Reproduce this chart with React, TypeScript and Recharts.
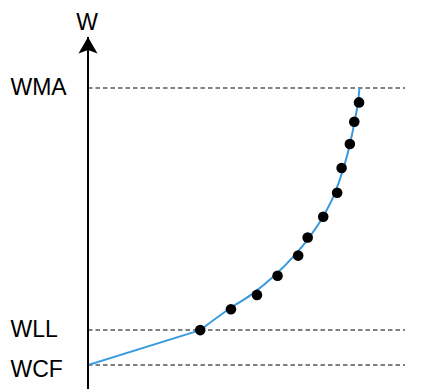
import React from "react";
import {
  ComposedChart,
  Line,
  Scatter,
  XAxis,
  YAxis,
  ReferenceLine,
  ReferenceDot,
} from "recharts";

// Level tick labels and their values (WCF = 0, WMA = 100)
const levelLabels = ["WCF", "WLL", "WMA"];
const levelValues = [0, 12.6, 100];

// Measured points (black dots)
const dotX = [35.4, 45.1, 53.3, 59.8, 66.3, 69.3, 74.2, 78.6, 80.0, 82.6, 84.0, 85.5];
const dotY = [12.6, 20.1, 25.3, 32.2, 39.5, 46.0, 53.5, 62.2, 71.1, 79.8, 87.8, 94.8];

// Straight start segment (WCF to WLL)
const startX = [0, 35.4];
const startY = [0, 12.6];

// Smooth fitted curve (WLL up to WMA)
const curveX = [35.4, 44.5, 51.4, 58.7, 65.0, 69.7, 74.1, 77.9, 80.6, 82.65, 84.07, 85.17, 85.65];
const curveY = [12.6, 20.2, 25.3, 32.1, 39.4, 45.9, 53.4, 62.1, 71.1, 79.8, 87.7, 95.0, 100];

const X_DOMAIN: [number, number] = [0, 100];
const Y_DOMAIN: [number, number] = [-8.66, 118.4];
const AXIS_TOP = 118.4;

const dots = dotX.map((x, i) => ({ x, y: dotY[i] }));
const startSeg = startX.map((x, i) => ({ x, y: startY[i] }));
const curve = curveX.map((x, i) => ({ x, y: curveY[i] }));

const FONT = "'Liberation Sans', Arial, Helvetica, sans-serif";
const labelShift: Record<string, number> = { WCF: 12, WLL: 7, WMA: 7 };

const LevelTick = (props: any) => {
  const { y, payload } = props;
  const idx = levelValues.indexOf(payload.value);
  const label = levelLabels[idx];
  return (
    <text x={10.5} y={y + labelShift[label]} fontSize={23} fontFamily={FONT} fill="#000" textAnchor="start">
      {label}
    </text>
  );
};

const Arrow = (props: any) => {
  const { cx, cy } = props;
  return (
    <g>
      <path
        d={`M${cx},${cy} L${cx - 9.5},${cy + 16.5} L${cx},${cy + 13} L${cx + 9.5},${cy + 16.5} Z`}
        fill="#000"
      />
      <text x={cx - 1} y={cy - 7} fontSize={23} fontFamily={FONT} fill="#000" textAnchor="middle">
        W
      </text>
    </g>
  );
};

const Dot = (props: any) => {
  const { cx, cy } = props;
  return <circle cx={cx} cy={cy} r={5.3} fill="#000" />;
};

export default function App() {
  return (
    <div style={{ position: "absolute", left: 0, top: 0, width: 443, height: 389, background: "#fff" }}>
      <ComposedChart width={443} height={389} margin={{ top: 37, right: 38, bottom: 0, left: 0 }}>
        <XAxis type="number" dataKey="x" domain={X_DOMAIN} hide allowDataOverflow />
        <YAxis
          type="number"
          dataKey="y"
          domain={Y_DOMAIN}
          ticks={levelValues}
          interval={0}
          width={88}
          tickLine={false}
          axisLine={{ stroke: "#000", strokeWidth: 2 }}
          tick={<LevelTick />}
          allowDataOverflow
        />
        {levelValues.map((v) => (
          <ReferenceLine
            key={v}
            y={v}
            stroke="#808080"
            strokeWidth={2}
            strokeDasharray="4.5 3"
            ifOverflow="visible"
          />
        ))}
        <Line
          data={startSeg}
          dataKey="y"
          type="linear"
          stroke="#3a9ae0"
          strokeWidth={2}
          dot={false}
          activeDot={false}
          isAnimationActive={false}
        />
        <Line
          data={curve}
          dataKey="y"
          type="monotone"
          stroke="#3a9ae0"
          strokeWidth={2}
          dot={false}
          activeDot={false}
          isAnimationActive={false}
        />
        <Scatter data={dots} dataKey="y" shape={<Dot />} isAnimationActive={false} />
        <ReferenceDot x={0} y={AXIS_TOP} ifOverflow="visible" shape={<Arrow />} />
      </ComposedChart>
    </div>
  );
}
